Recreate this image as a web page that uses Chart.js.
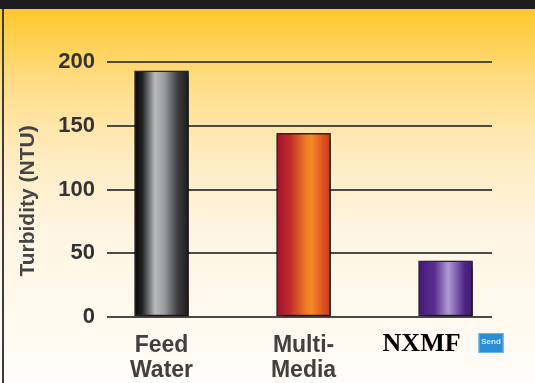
<!DOCTYPE html>
<html>
<head>
<meta charset="utf-8">
<script src="https://cdn.jsdelivr.net/npm/chart.js@4/dist/chart.umd.min.js"></script>
<style>
  html, body { margin: 0; padding: 0; background: #fff; }
  #grafico { display: block; }
</style>
</head>
<body>
<canvas id="grafico" width="535" height="383"></canvas>
<script>
const categorias = [['Feed', 'Water'], ['Multi-', 'Media'], ['NXMF']];
const turbidez = [193, 144, 44];
const ticksY = [0, 50, 100, 150, 200];
const tituloY = 'Turbidity (NTU)';
const iconeTexto = 'Send';

const largura = 54;

// gradientes horizontais dos "cilindros"
const paletas = [
  [[0, '#050505'], [0.14, '#202020'], [0.38, '#b8babd'], [0.55, '#9a9ca0'], [0.8, '#3c3c3e'], [1, '#1c1c1c']],
  [[0, '#a3102c'], [0.25, '#c02a2a'], [0.55, '#f07f22'], [0.65, '#f38a28'], [0.85, '#e0531f'], [1, '#c93a1c']],
  [[0, '#44197a'], [0.3, '#5a2e90'], [0.55, '#b29ad2'], [0.65, '#8f74bc'], [0.85, '#4e2585'], [1, '#40197a']]
];

function preenchimento(c) {
  const ch = c.chart;
  const paleta = paletas[c.dataIndex];
  if (!ch.chartArea) return paleta[2][1];
  const x = ch.scales.x.getPixelForValue(c.dataIndex);
  const g = ch.ctx.createLinearGradient(x - largura / 2, 0, x + largura / 2, 0);
  paleta.forEach(([p, cor]) => g.addColorStop(p, cor));
  return g;
}

const fundo = {
  id: 'fundo',
  beforeDraw(chart) {
    const ctx = chart.ctx;
    const g = ctx.createLinearGradient(0, 9, 0, 383);
    g.addColorStop(0, '#ffc72e');
    g.addColorStop(0.08, '#ffd050');
    g.addColorStop(0.2, '#ffdd88');
    g.addColorStop(0.4, '#ffecc2');
    g.addColorStop(0.6, '#fff5e2');
    g.addColorStop(1, '#fffcf8');
    ctx.save();
    ctx.fillStyle = g;
    ctx.fillRect(0, 0, chart.width, chart.height);
    ctx.fillStyle = '#1f1c1f';
    ctx.fillRect(0, 0, chart.width, 9);
    ctx.fillStyle = '#3d3d3d';
    ctx.fillRect(2, 9, 2, chart.height - 9);
    ctx.restore();
  }
};

const sombra = {
  id: 'sombra',
  beforeDatasetsDraw(chart) {
    const ctx = chart.ctx;
    ctx.save();
    ctx.shadowColor = 'rgba(0,0,0,0.6)';
    ctx.shadowBlur = 7;
    ctx.shadowOffsetX = 5;
    ctx.shadowOffsetY = 4;
  },
  afterDatasetsDraw(chart) {
    chart.ctx.restore();
  }
};

const textos = {
  id: 'textos',
  afterDraw(chart) {
    const ctx = chart.ctx;
    ctx.save();
    // titulo do eixo y
    ctx.translate(28, 201);
    ctx.rotate(-Math.PI / 2);
    ctx.font = 'bold 21px "Liberation Sans", Arial, sans-serif';
    ctx.fillStyle = '#444';
    ctx.textAlign = 'center';
    ctx.textBaseline = 'middle';
    ctx.fillText(tituloY, 0, 0);
    ctx.restore();

    // rotulo NXMF + icone
    ctx.save();
    const x = chart.scales.x.getPixelForValue(2) - 24;
    ctx.font = 'bold 26px "Liberation Serif", "Times New Roman", serif';
    ctx.fillStyle = '#000';
    ctx.textAlign = 'center';
    ctx.textBaseline = 'middle';
    const rotulo = categorias[2][0];
    ctx.fillText(rotulo, x, 344);
    const w = ctx.measureText(rotulo).width;
    const ix = x + w / 2 + 18;
    ctx.fillStyle = '#2a8ed6';
    ctx.fillRect(ix, 333, 25, 20);
    ctx.strokeStyle = '#6bb6ea';
    ctx.lineWidth = 1;
    ctx.strokeRect(ix + 0.5, 333.5, 24, 19);
    ctx.fillStyle = '#d8ecfa';
    ctx.font = 'bold 8px "Liberation Sans", Arial, sans-serif';
    ctx.fillText(iconeTexto, ix + 12.5, 342);
    ctx.restore();
  }
};

const ctx = document.getElementById('grafico').getContext('2d');

const myChart = new Chart(ctx, {
  type: 'bar',
  data: {
    datasets: [{
      data: turbidez.map((v, i) => ({ x: i, y: v })),
      backgroundColor: preenchimento,
      borderColor: 'rgba(20,20,20,0.9)',
      borderWidth: 1.5,
      borderSkipped: false,
      barThickness: largura
    }]
  },
  plugins: [fundo, sombra, textos],
  options: {
    responsive: false,
    animation: false,
    devicePixelRatio: 1,
    layout: { padding: { top: 62, right: 43, left: 0, bottom: 0 } },
    plugins: { legend: { display: false }, tooltip: { enabled: false } },
    scales: {
      x: {
        type: 'linear',
        min: -0.384,
        max: 2.327,
        offset: false,
        afterBuildTicks: s => { s.ticks = categorias.map((c, i) => ({ value: i })); },
        afterFit: s => { s.height = 66; },
        grid: { display: false, offset: false },
        border: { display: false },
        ticks: {
          autoSkip: false,
          maxRotation: 0,
          padding: 8,
          color: '#404040',
          font: { family: '"Liberation Sans", Arial, sans-serif', size: 23, weight: 'bold', lineHeight: 1.09 },
          callback: v => (v === 2 ? '' : categorias[v])
        }
      },
      y: {
        min: 0,
        max: 200,
        afterBuildTicks: s => { s.ticks = ticksY.map(v => ({ value: v })); },
        afterFit: s => { s.width = 107; },
        border: { display: false },
        grid: { color: '#4a4a4a', lineWidth: 2, drawTicks: false },
        ticks: {
          padding: 12,
          color: '#333',
          font: { family: '"Liberation Sans", Arial, sans-serif', size: 22, weight: 'bold' }
        }
      }
    }
  }
});
</script>
</body>
</html>
